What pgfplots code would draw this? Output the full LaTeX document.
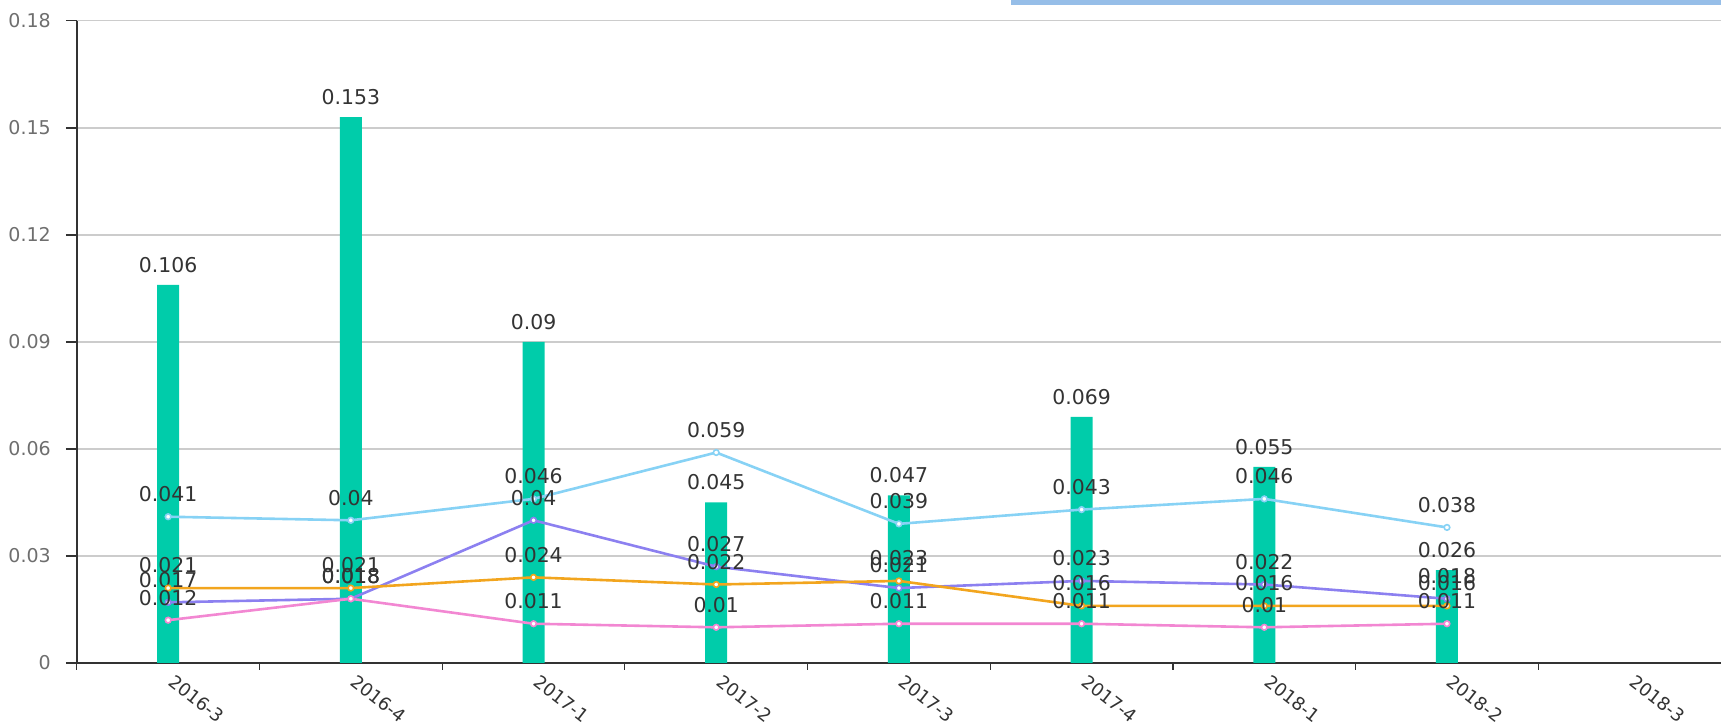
\documentclass[border=0pt]{standalone}
\usepackage{pgfplots}
\pgfplotsset{compat=1.18}
\usepackage{fontspec}
\setmainfont{DejaVu Sans}

\definecolor{barteal}{RGB}{0,204,170}
\definecolor{skyline}{RGB}{135,210,245}
\definecolor{violetline}{RGB}{140,128,240}
\definecolor{orangeline}{RGB}{242,165,30}
\definecolor{pinkline}{RGB}{242,135,210}
\definecolor{axiscol}{RGB}{51,51,51}
\definecolor{labelcol}{RGB}{51,51,51}
\definecolor{tickcol}{RGB}{110,110,110}
\definecolor{gridcol}{RGB}{204,204,204}
\definecolor{topband}{RGB}{150,190,232}

\begin{document}
\begin{tikzpicture}
\begin{axis}[
  at={(0,0)}, anchor=south west,
  scale only axis, width=822pt, height=321pt,
  xmin=-0.5, xmax=8.5, ymin=0, ymax=0.18,
  clip=false,
  axis x line*=bottom, axis y line*=left,
  axis line style={-, draw=axiscol, line width=0.8pt},
  xtick={0,1,2,3,4,5,6,7,8},
  xticklabels={2016-3,2016-4,2017-1,2017-2,2017-3,2017-4,2018-1,2018-2,2018-3},
  minor xtick={-0.5,0.5,1.5,2.5,3.5,4.5,5.5,6.5,7.5},
  major x tick style={draw=none},
  minor x tick style={draw=axiscol, line width=0.6pt},
  ytick={0,0.03,0.06,0.09,0.12,0.15,0.18},
  yticklabels={0,0.03,0.06,0.09,0.12,0.15,0.18},
  y tick style={draw=axiscol, line width=0.6pt},
  tick align=outside,
  major tick length=5.5pt, minor tick length=3.5pt,
  ymajorgrids, grid style={draw=gridcol, line width=0.6pt},
  yticklabel style={font=\fontsize{9.5}{11}\selectfont, text=tickcol, xshift=-4pt},
  xticklabel style={font=\fontsize{9}{11}\selectfont, text=labelcol,
    rotate=-38, anchor=north west, inner sep=0pt, xshift=2.5pt, yshift=2.5pt},
  nodes near coords,
  every node near coord/.append style={font=\fontsize{10.2}{12}\selectfont,
    text=labelcol, anchor=south, inner sep=0pt},
  /pgf/number format/.cd, fixed, precision=3, assume math mode=true,
]
% quarterly bars
\addplot[ybar, bar width=11pt, fill=barteal, draw=none,
  every node near coord/.append style={yshift=6pt}]
  coordinates {(0,0.106) (1,0.153) (2,0.09) (3,0.045) (4,0.047) (5,0.069) (6,0.055) (7,0.026)};
% line series
\addplot[skyline, line width=1.3pt, mark=*, mark size=1.4pt,
  mark options={fill=white, draw=skyline, line width=0.8pt},
  every node near coord/.append style={yshift=7pt}]
  coordinates {(0,0.041) (1,0.04) (2,0.046) (3,0.059) (4,0.039) (5,0.043) (6,0.046) (7,0.038)};
\addplot[violetline, line width=1.3pt, mark=*, mark size=1.4pt,
  mark options={fill=white, draw=violetline, line width=0.8pt},
  every node near coord/.append style={yshift=7pt}]
  coordinates {(0,0.017) (1,0.018) (2,0.04) (3,0.027) (4,0.021) (5,0.023) (6,0.022) (7,0.018)};
\addplot[orangeline, line width=1.3pt, mark=*, mark size=1.4pt,
  mark options={fill=white, draw=orangeline, line width=0.8pt},
  every node near coord/.append style={yshift=7pt}]
  coordinates {(0,0.021) (1,0.021) (2,0.024) (3,0.022) (4,0.023) (5,0.016) (6,0.016) (7,0.016)};
\addplot[pinkline, line width=1.3pt, mark=*, mark size=1.4pt,
  mark options={fill=white, draw=pinkline, line width=0.8pt},
  every node near coord/.append style={yshift=7pt}]
  coordinates {(0,0.012) (1,0.018) (2,0.011) (3,0.01) (4,0.011) (5,0.011) (6,0.01) (7,0.011)};
\end{axis}
% band along the top edge
\fill[topband] (467pt,328.7pt) rectangle (822pt,331.45pt);
\pgfresetboundingbox
\path[use as bounding box] (-38.4pt,-32pt) rectangle (822pt,331.45pt);
\end{tikzpicture}
\end{document}
